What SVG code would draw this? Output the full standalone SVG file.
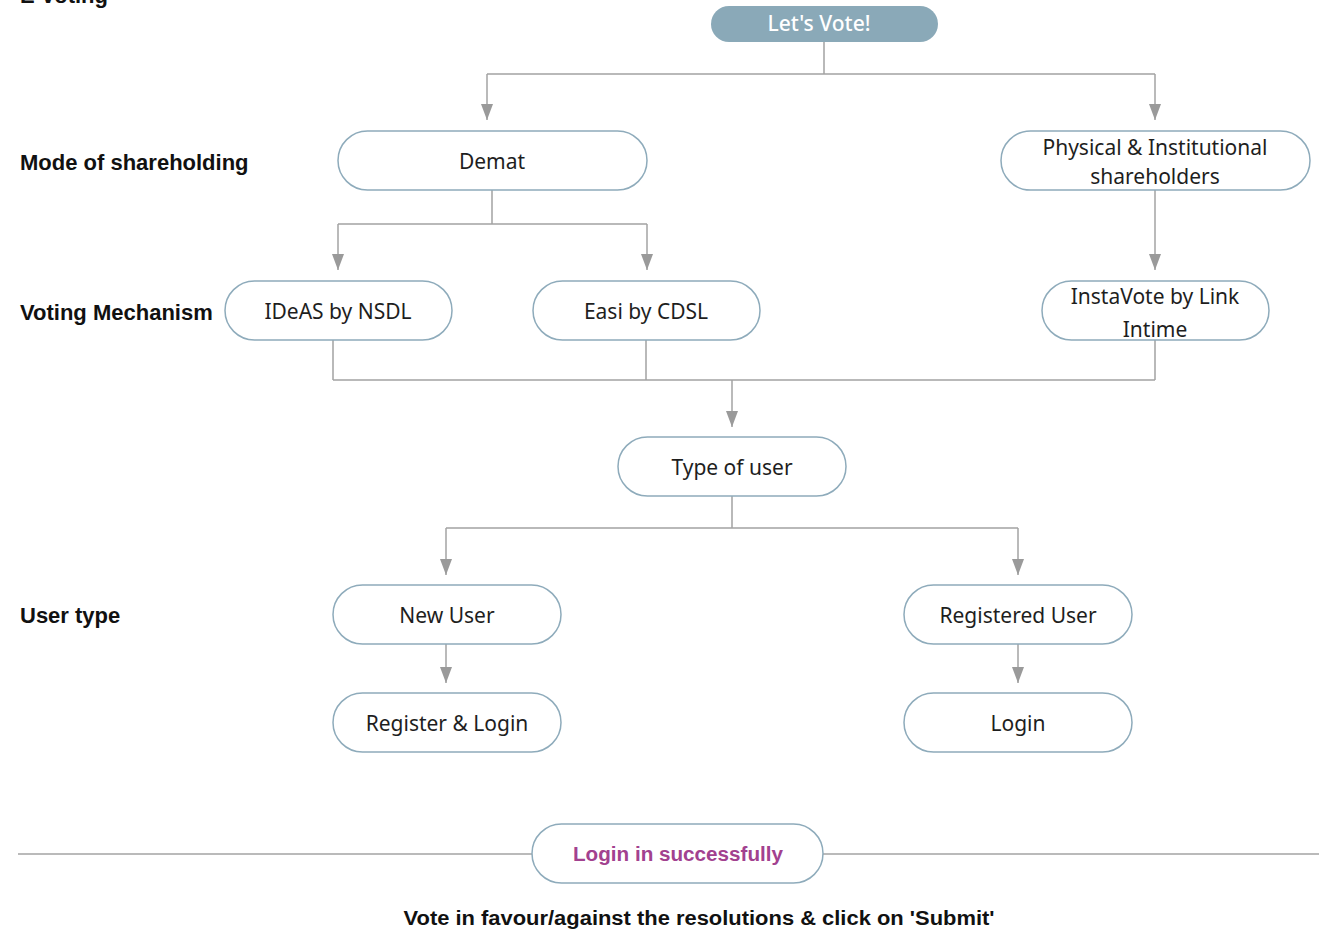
<svg xmlns="http://www.w3.org/2000/svg" width="1319" height="938" viewBox="0 0 1319 938">
<defs>
<marker id="ad" viewBox="0 0 12 16" refX="6" refY="16" markerWidth="12" markerHeight="16" markerUnits="userSpaceOnUse" orient="0">
<path d="M0,0 L12,0 L6,16 Z" fill="#9a9a9a"/>
</marker>
</defs>
<style>
.node{fill:#fff;stroke:#8eabbb;stroke-width:1.5}
.t{font-family:"Noto Sans",Roboto,"Liberation Sans",sans-serif;font-size:21px;fill:#1e1e1e;text-anchor:middle}
.lbl{font-family:"Liberation Sans",Arial,sans-serif;font-size:22px;font-weight:bold;fill:#111}
.c{fill:none;stroke:#a3a3a3;stroke-width:1.5}
</style>
<rect width="1319" height="938" fill="#fff"/>
<text class="lbl" x="20" y="3">E-voting</text>
<text class="lbl" x="20" y="170">Mode of shareholding</text>
<text class="lbl" x="20" y="320">Voting Mechanism</text>
<text class="lbl" x="20" y="623">User type</text>
<line x1="18" y1="854" x2="1319" y2="854" stroke="#a3a3a3" stroke-width="1.5"/>
<g id="connectors">
<path class="c" d="M824,42 V74 M487,74 H1155"/>
<path class="c" d="M487,74 V120" marker-end="url(#ad)"/>
<path class="c" d="M1155,74 V120" marker-end="url(#ad)"/>
<path class="c" d="M492,190 V224 M338,224 H647"/>
<path class="c" d="M338,224 V270" marker-end="url(#ad)"/>
<path class="c" d="M647,224 V270" marker-end="url(#ad)"/>
<path class="c" d="M1155,190 V270" marker-end="url(#ad)"/>
<path class="c" d="M333,340 V380 M646,340 V380 M1155,340 V380 M333,380 H1155"/>
<path class="c" d="M732,380 V427" marker-end="url(#ad)"/>
<path class="c" d="M732,496 V528 M446,528 H1018"/>
<path class="c" d="M446,528 V575" marker-end="url(#ad)"/>
<path class="c" d="M1018,528 V575" marker-end="url(#ad)"/>
<path class="c" d="M446,644 V683" marker-end="url(#ad)"/>
<path class="c" d="M1018,644 V683" marker-end="url(#ad)"/>
</g>
<g id="start">
<rect x="711" y="6" width="227" height="36" rx="18" fill="#8aa9b8"/>
<text x="819" y="31" style="font-family:'Noto Sans',Roboto,'Liberation Sans',sans-serif;font-size:21px;font-weight:500;fill:#fff;text-anchor:middle">Let's Vote!</text>
</g>
<g id="demat">
<rect class="node" x="338" y="131" width="309" height="59" rx="29.5"/>
<text class="t" x="492" y="169">Demat</text>
</g>
<g id="physical">
<rect class="node" x="1001" y="131" width="309" height="59" rx="29.5"/>
<text class="t" x="1155" y="155">Physical &amp; Institutional</text>
<text class="t" x="1155" y="184">shareholders</text>
</g>
<g id="ideas">
<rect class="node" x="225" y="281" width="227" height="59" rx="29.5"/>
<text class="t" x="338" y="319">IDeAS by NSDL</text>
</g>
<g id="easi">
<rect class="node" x="533" y="281" width="227" height="59" rx="29.5"/>
<text class="t" x="646" y="319">Easi by CDSL</text>
</g>
<g id="instavote">
<rect class="node" x="1042" y="281" width="227" height="59" rx="29.5"/>
<text class="t" x="1155" y="304">InstaVote by Link</text>
<text class="t" x="1155" y="337">Intime</text>
</g>
<g id="typeofuser">
<rect class="node" x="618" y="437" width="228" height="59" rx="29.5"/>
<text class="t" x="732" y="475">Type of user</text>
</g>
<g id="newuser">
<rect class="node" x="333" y="585" width="228" height="59" rx="29.5"/>
<text class="t" x="447" y="623">New User</text>
</g>
<g id="registereduser">
<rect class="node" x="904" y="585" width="228" height="59" rx="29.5"/>
<text class="t" x="1018" y="623">Registered User</text>
</g>
<g id="registerlogin">
<rect class="node" x="333" y="693" width="228" height="59" rx="29.5"/>
<text class="t" x="447" y="731">Register &amp; Login</text>
</g>
<g id="login">
<rect class="node" x="904" y="693" width="228" height="59" rx="29.5"/>
<text class="t" x="1018" y="731">Login</text>
</g>
<g id="success">
<rect class="node" x="532" y="824" width="291" height="59" rx="29.5"/>
<text x="678" y="861" style="font-family:'Liberation Sans',Arial,sans-serif;font-size:20px;font-weight:bold;fill:#a2418f;text-anchor:middle" textLength="210" lengthAdjust="spacingAndGlyphs">Login in successfully</text>
</g>
<text x="699" y="925" style="font-family:'Liberation Sans',Arial,sans-serif;font-size:20px;font-weight:bold;fill:#111;text-anchor:middle" textLength="591" lengthAdjust="spacingAndGlyphs">Vote in favour/against the resolutions &amp; click on 'Submit'</text>
</svg>
